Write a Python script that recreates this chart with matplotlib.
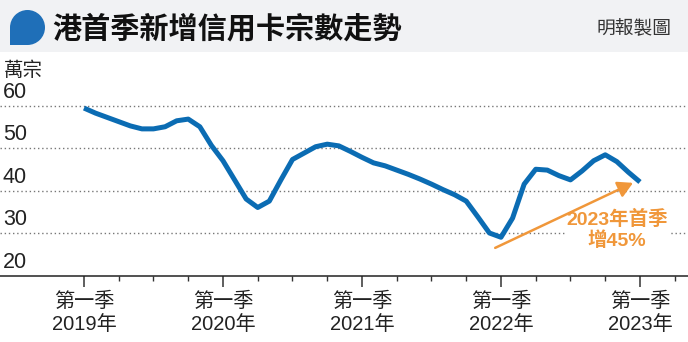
import numpy as np
import matplotlib
matplotlib.use('Agg')
import matplotlib.pyplot as plt
from matplotlib.patches import Rectangle, Circle

plt.rcParams['font.family'] = ['Liberation Sans Narrow', 'Liberation Sans', 'Noto Sans CJK TC', 'DejaVu Sans']

# monthly new credit cards (10k), Jan 2019 .. Jan 2023
values = [59.4, 58.2, 57.2, 56.2, 55.2, 54.5, 54.5, 55.0, 56.4, 56.8, 55.0, 50.6,
          47.0, 42.5, 38.0, 36.0, 37.5, 42.5, 47.3, 48.8, 50.3, 50.9, 50.5, 49.2,
          47.8, 46.5, 45.8, 44.8, 43.8, 42.7, 41.5, 40.2, 39.0, 37.5, 33.8, 30.0,
          29.0, 33.5, 41.5, 45.0, 44.8, 43.5, 42.5, 44.6, 47.0, 48.4, 46.8, 44.3,
          42.0]
months = np.arange(len(values))
year_labels = ['第一季\n2019年', '第一季\n2020年', '第一季\n2021年', '第一季\n2022年', '第一季\n2023年']
year_ticks = [0, 12, 24, 36, 48]
quarter_ticks = np.arange(0, 52, 3)
y_ticks = [20, 30, 40, 50, 60]

BLUE = '#0b6cb3'
ORANGE = '#f0973a'

fig = plt.figure(figsize=(6.88, 3.42), dpi=100)

# header band
hdr = fig.add_axes([0, 0, 1, 1], zorder=0)
hdr.set_xlim(0, 688)
hdr.set_ylim(342, 0)
hdr.axis('off')
hdr.add_patch(Rectangle((0, 0), 688, 52, color='#f1f2f4', lw=0))
hdr.add_patch(Circle((27.5, 27.5), 17.5, color='#1f6fb8', lw=0))
hdr.add_patch(Rectangle((10, 27.5), 17.5, 17.5, color='#1f6fb8', lw=0))
hdr.text(52, 28, '港首季新增信用卡宗數走勢', fontsize=21, fontweight='bold',
         family=['Noto Sans CJK TC'], va='center', ha='left', color='#111111')
hdr.text(672, 28, '明報製圖', fontsize=13.5, family=['Noto Sans CJK TC'],
         va='center', ha='right', color='#333333')
hdr.text(4, 70, '萬宗', fontsize=14, family=['Noto Sans CJK TC'], va='center',
         ha='left', color='#222222')

ax = fig.add_axes([0, (342 - 275.5) / 342, 1, 42 * 4.25 / 342], zorder=1)
ax.patch.set_alpha(0)
ax.set_xlim(-84 / 11.583, (688 - 84) / 11.583)
ax.set_ylim(20, 62)

for s in ['top', 'right', 'left']:
    ax.spines[s].set_visible(False)
ax.spines['bottom'].set_linewidth(1.1)
ax.spines['bottom'].set_color('#222222')

for v in y_ticks[1:]:
    ax.axhline(v, color='#777777', lw=1.0, ls=(0, (1, 2)), zorder=1)
for v in y_ticks:
    ax.annotate(str(v), xy=(0, v), xycoords=('axes fraction', 'data'),
                xytext=(2, 2), textcoords='offset points', ha='left', va='bottom',
                fontsize=15.5, color='#222222')
ax.set_yticks([])

ax.set_xticks(year_ticks)
ax.set_xticklabels(year_labels, fontsize=14.5, linespacing=1.25, color='#222222')
ax.set_xticks(quarter_ticks, minor=True)
ax.tick_params(axis='x', which='major', length=8, width=1.1, color='#333333', pad=4)
ax.tick_params(axis='x', which='minor', length=3.5, width=1.0, color='#333333')

ax.plot(months, values, color=BLUE, lw=3.6, solid_joinstyle='round',
        solid_capstyle='butt', zorder=3)

ax.annotate('', xy=(47.4, 41.8), xytext=(35.5, 26.5),
            arrowprops=dict(arrowstyle='-|>,head_length=0.9,head_width=0.5',
                            color=ORANGE, lw=1.8, shrinkA=0, shrinkB=0), zorder=4)
ax.text(46.0, 30.8, '2023年首季\n增45%', fontsize=14, fontweight='bold',
        color=ORANGE, ha='center', va='center', linespacing=1.15,
        family=['Liberation Sans', 'Noto Sans CJK TC'],
        bbox=dict(facecolor='white', edgecolor='none', pad=1), zorder=2)

fig.savefig('out.png', dpi=100)
